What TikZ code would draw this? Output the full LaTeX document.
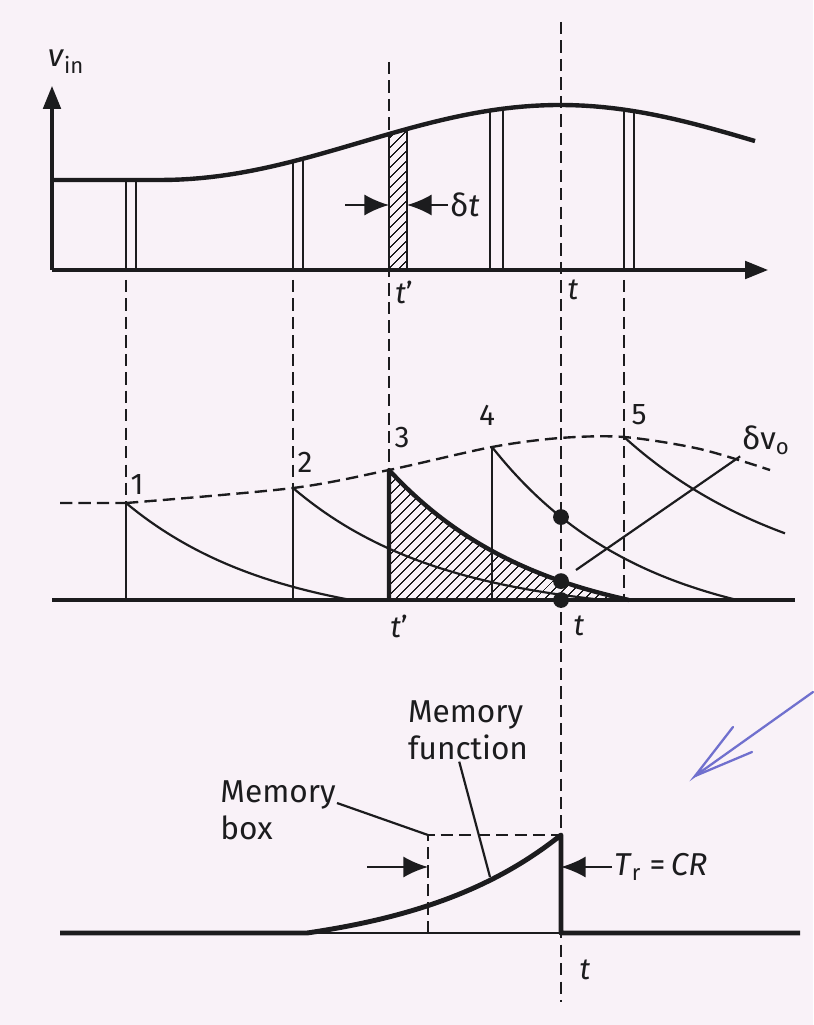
\documentclass[tikz,border=0pt]{standalone}
\usepackage{fontspec}
\setmainfont{Fira Sans}
\usepackage{tikz}
\usetikzlibrary{arrows.meta, patterns.meta, positioning}
\definecolor{papel}{RGB}{249,242,248}
\definecolor{tinta}{RGB}{28,28,30}
\definecolor{boli}{RGB}{112,112,206}
\tikzset{
  eje/.style={line width=1.8pt, color=tinta, -{Triangle[length=13pt,width=10pt]}},
  base/.style={line width=2.8pt, color=tinta},
  curva/.style={line width=2.5pt, color=tinta, line join=round},
  fina/.style={line width=1.25pt, color=tinta},
  trazos/.style={line width=1.35pt, color=tinta, dash pattern=on 7pt off 3.5pt},
  flecha/.style={line width=1.25pt, color=tinta, -{Latex[length=14pt,width=12pt]}},
  rayado/.style={pattern={Lines[angle=45,distance=4pt,line width=0.75pt]}, pattern color=tinta},
  etiq/.style={font=\fontsize{18}{21}\selectfont, text=tinta, inner sep=1pt},
  cifra/.style={font=\fontsize{17}{19}\selectfont, text=tinta, inner sep=1pt},
  punto/.style={circle, fill=tinta, minimum size=9pt, inner sep=0pt}
}

\begin{document}
\begin{tikzpicture}[x=0.2mm, y=-0.2mm,
  declare function={ent(\x)=142.5+37.5*cos(0.45*(max(\x,160)-160));
                    decae(\s,\n)=(exp(-\s/150)-exp(-\n/150))/(1-exp(-\n/150));}]
  \fill[papel] (0,0) rectangle (813,1025);
  \useasboundingbox (0,0) rectangle (813,1025);

  % entrada v_in
  \coordinate (O1) at (52,270);
  \draw[eje] (O1) -- (768,270);
  \draw[eje] (O1) -- (52,86);
  \node[etiq] (vin) at (66,62) {\textit{v}\textsubscript{in}};
  \fill[rayado] (389,270) -- (389,{ent(389)}) -- (407,{ent(407)}) -- (407,270) -- cycle;
  \foreach \xa/\xb in {126/136, 293/303, 389/407, 490/503, 624/634} {
    \draw[fina] (\xa,270) -- (\xa,{ent(\xa)});
    \draw[fina] (\xb,270) -- (\xb,{ent(\xb)});
  }
  \draw[curva] (52,180) -- (160,180) -- plot[domain=160:755, samples=60] (\x,{ent(\x)});
  \draw[flecha] (345,205) -- (389,205);
  \node[etiq, anchor=west] (dt) at (448,205) {δ\textit{t}};
  \draw[flecha] (dt.west) -- (407,205);
  \node[cifra] (tp1) at (404,292) {\textit{t}'};
  \node[cifra] (t1) at (573,290) {\textit{t}};

  % salida: impulsos 1..5
  \coordinate (b0) at (52,600);
  \coordinate (p1) at (126,503);
  \coordinate (p2) at (293,488);
  \coordinate (p3) at (389,470);
  \coordinate (p4) at (492,447);
  \coordinate (p5) at (624,437);
  \fill[rayado] (p3) -- plot[domain=389:629, samples=50] (\x,{600-130*decae(\x-389,240)}) -- (629,600) -- (389,600) -- cycle;
  \foreach \xa/\ya/\lo in {126/503/225, 293/488/310, 492/447/245} {
    \pgfmathsetmacro\xe{\xa+\lo}
    \draw[fina] (\xa,\ya) -- (\xa,600);
    \draw[fina] plot[domain=\xa:\xe, samples=50] (\x,{600-(600-\ya)*decae(\x-\xa,\lo)});
  }
  \draw[fina] plot[domain=624:785, samples=40] (\x,{600-163*exp(-(\x-624)/180)});
  \draw[curva] (389,600) -- (p3) -- plot[domain=389:629, samples=50] (\x,{600-130*decae(\x-389,240)});
  \draw[base] (b0) -- (795,600);
  \draw[trazos] (60,503) -- (p1) plot[smooth, tension=0.5] coordinates {(p1) (p2) (p3) (p4) (560,438) (p5) (700,449) (770,470)};
  \node[cifra] (n1) at (137,485) {1};
  \node[cifra] (n2) at (305,462) {2};
  \node[cifra] (n3) at (402,438) {3};
  \node[cifra] (n4) at (487,415) {4};
  \node[cifra] (n5) at (639,415) {5};
  \node[punto] (d1) at (561,{600-153*decae(69,245)}) {};
  \node[punto] (d2) at (561,{600-130*decae(172,240)}) {};
  \node[punto] (d3) at (561,600) {};
  \node[etiq] (dvo) at (766,440) {δv\textsubscript{o}};
  \coordinate (q) at (576,570);
  \draw[fina] (dvo.south west) -- (q);
  \node[cifra] (tp2) at (399,626) {\textit{t}'};
  \node[cifra] (t2) at (579,626) {\textit{t}};

  % lineas de tiempo
  \draw[trazos] (126,280) -- (p1);
  \draw[trazos] (293,280) -- (p2);
  \draw[trazos] (389,62) -- (p3);
  \draw[trazos] (624,280) -- (624,600);
  \draw[trazos] (561,22) -- (561,1002);

  % caja de memoria
  \coordinate (m0) at (60,933);
  \coordinate (m1) at (307,933);
  \coordinate (mt) at (561,835);
  \coordinate (mb) at (561,933);
  \coordinate (k0) at (428,933);
  \coordinate (k1) at (428,835);
  \draw[fina] (m1) -- (mb);
  \draw[trazos] (k0) -- (k1) -- (mt);
  \draw[curva, line width=2.8pt] (m0) -- (m1) -- plot[domain=307:561, samples=50] (\x,{933-98*decae(561-\x,254)}) -- (mb) -- (800,933);
  \coordinate (fl) at (367,867);
  \draw[flecha] (fl) -- (k1 |- fl);
  \node[etiq, anchor=west] (tr) at (612,867) {\textit{T}\textsubscript{r} =\,\textit{CR}};
  \draw[flecha] (tr.west) -- (mt |- tr.west);
  \node[etiq, align=left] (mbox) at (278,810) {Memory\\box};
  \draw[fina] (337,803) -- (k1);
  \node[etiq, align=left] (mfun) at (468,730) {Memory\\function};
  \draw[fina] ([xshift=-5pt]mfun.south) -- (490,877);
  \node[cifra] (t3) at (585,970) {\textit{t}};

  % flecha a boli
  \draw[boli, line width=1.3pt, line cap=round] (813,692) -- (695,776) -- (733,727);
  \draw[boli, line width=1.3pt, line cap=round] (695,776) -- (752,752);
\end{tikzpicture}
\end{document}
